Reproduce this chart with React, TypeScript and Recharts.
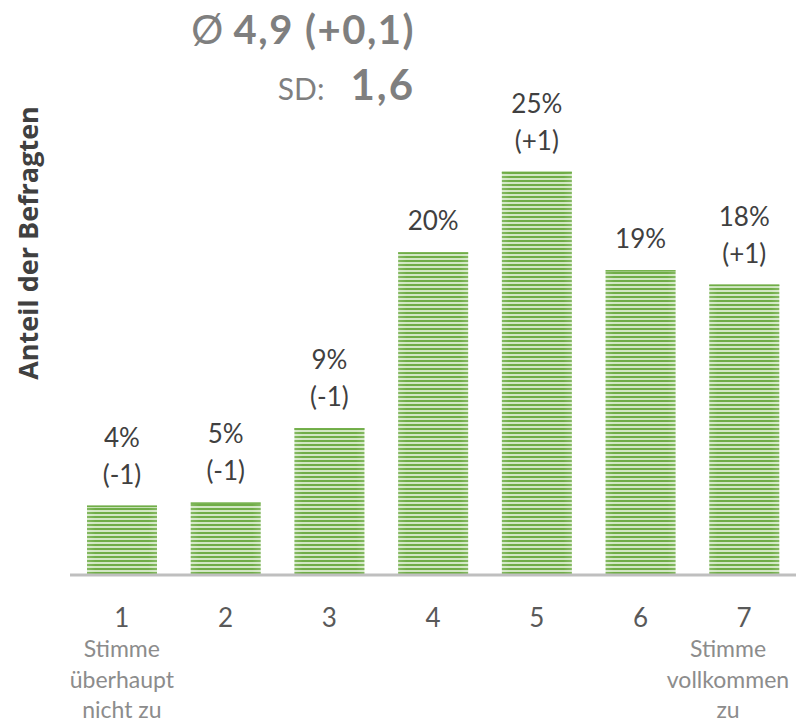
import React from 'react';
import { BarChart, Bar, XAxis, YAxis, LabelList } from 'recharts';

const categories = ['1', '2', '3', '4', '5', '6', '7'];
const shares = [4.3, 4.5, 9.1, 20, 25, 18.9, 18];
const shareLabels = ['4%', '5%', '9%', '20%', '25%', '19%', '18%'];
const changeLabels = ['(-1)', '(-1)', '(-1)', '', '(+1)', '', '(+1)'];
const subLabels: string[][] = [
  ['Stimme', 'überhaupt', 'nicht zu'],
  [],
  [],
  [],
  [],
  [],
  ['Stimme', 'vollkommen', 'zu'],
];
const titleMean = '4,9 (+0,1)';
const titleSD = '1,6';
const yTitle = 'Anteil der Befragten';

const data = categories.map((c, i) => ({
  cat: c,
  value: shares[i],
  label: shareLabels[i],
  change: changeLabels[i],
  idx: i,
}));

const FONT = 'Lato, "Noto Sans", sans-serif';
const CHART_W = 796;
const CAPTION_MIN_X = 98;
const CAPTION_MAX_X = CHART_W - 68;

const StripedBar = (props: any) => {
  const { x, y, width, height } = props;
  if (!height || height <= 0) return null;
  return (
    <g>
      <rect x={x} y={y} width={width} height={height} fill="url(#stripes)" />
      <rect x={x} y={y} width={width} height={height} fill="url(#edgeFade)" />
      <rect x={x} y={y} width={width} height={1.5} fill="#70ad47" />
    </g>
  );
};

const BarLabel = (props: any) => {
  const { x, y, width, index } = props;
  const cx = x + width / 2;
  const lab = shareLabels[index];
  const ch = changeLabels[index];
  const style = { fontFamily: FONT, fontSize: 26, fill: '#404040' } as any;
  if (ch) {
    return (
      <g>
        <text x={cx} y={y - 59} textAnchor="middle" style={style}>{lab}</text>
        <text x={cx} y={y - 22} textAnchor="middle" style={style}>{ch}</text>
      </g>
    );
  }
  return (
    <text x={cx} y={y - 22} textAnchor="middle" style={style}>{lab}</text>
  );
};

const CatTick = (props: any) => {
  const { x, payload, index } = props;
  const i = typeof index === 'number' ? index : categories.indexOf(payload.value);
  const subs = subLabels[i] || [];
  const subX = Math.max(CAPTION_MIN_X, Math.min(x, CAPTION_MAX_X));
  return (
    <g>
      <text x={x} y={627} textAnchor="middle" style={{ fontFamily: FONT, fontSize: 26, fill: '#595959' }}>
        {payload.value}
      </text>
      {subs.map((s, k) => (
        <text
          key={k}
          x={subX}
          y={657 + k * 30.5}
          textAnchor="middle"
          style={{ fontFamily: FONT, fontSize: 23, fill: '#8c8c8c' }}
        >
          {s}
        </text>
      ))}
    </g>
  );
};

export default function App() {
  return (
    <div style={{ position: 'absolute', left: 0, top: 0, width: 796, height: 725, background: '#fff' }}>
      <BarChart
        width={CHART_W}
        height={725}
        data={data}
        margin={{ top: 91, right: 0, bottom: 120, left: 0 }}
        barSize={70}
      >
        <defs>
          <pattern id="stripes" patternUnits="userSpaceOnUse" width="8" height="4">
            <rect x="0" y="0" width="8" height="4" fill="#d2e7c4" />
            <rect x="0" y="0" width="8" height="2" fill="#70ad47" />
          </pattern>
          <linearGradient id="edgeFade" x1="0" y1="0" x2="1" y2="0">
            <stop offset="0" stopColor="#ffffff" stopOpacity="0.15" />
            <stop offset="0.12" stopColor="#ffffff" stopOpacity="0" />
            <stop offset="0.88" stopColor="#ffffff" stopOpacity="0" />
            <stop offset="1" stopColor="#ffffff" stopOpacity="0.15" />
          </linearGradient>
        </defs>
        <YAxis width={70} domain={[0, 30]} tick={false} axisLine={false} tickLine={false} />
        <XAxis
          dataKey="cat"
          height={30}
          axisLine={{ stroke: '#bfbfbf', strokeWidth: 3 }}
          tickLine={false}
          interval={0}
          tick={<CatTick />}
        />
        <Bar dataKey="value" isAnimationActive={false} shape={<StripedBar />}>
          <LabelList dataKey="label" content={<BarLabel />} />
        </Bar>
      </BarChart>
      <svg
        width={796}
        height={725}
        style={{ position: 'absolute', left: 0, top: 0, pointerEvents: 'none' }}
      >
        <text x={415} y={44} textAnchor="end" style={{ fontFamily: FONT, fontSize: 40, fill: '#7f7f7f' }}>
          <tspan>Ø </tspan>
          <tspan fontWeight="bold" letterSpacing={1.5}>{titleMean}</tspan>
        </text>
        <text x={415} y={100} textAnchor="end" style={{ fontFamily: FONT, fill: '#7f7f7f' }}>
          <tspan fontSize={30}>SD:</tspan>
          <tspan fontSize={42} fontWeight="bold" dx={26} letterSpacing={2}>{titleSD}</tspan>
        </text>
        <text
          transform="translate(38,243) rotate(-90)"
          x={0}
          y={0}
          textAnchor="middle"
          style={{ fontFamily: '"Open Sans", Lato, sans-serif', fontSize: 27, fontWeight: 'bold', fill: '#404040' }}
        >
          {yTitle}
        </text>
      </svg>
    </div>
  );
}
